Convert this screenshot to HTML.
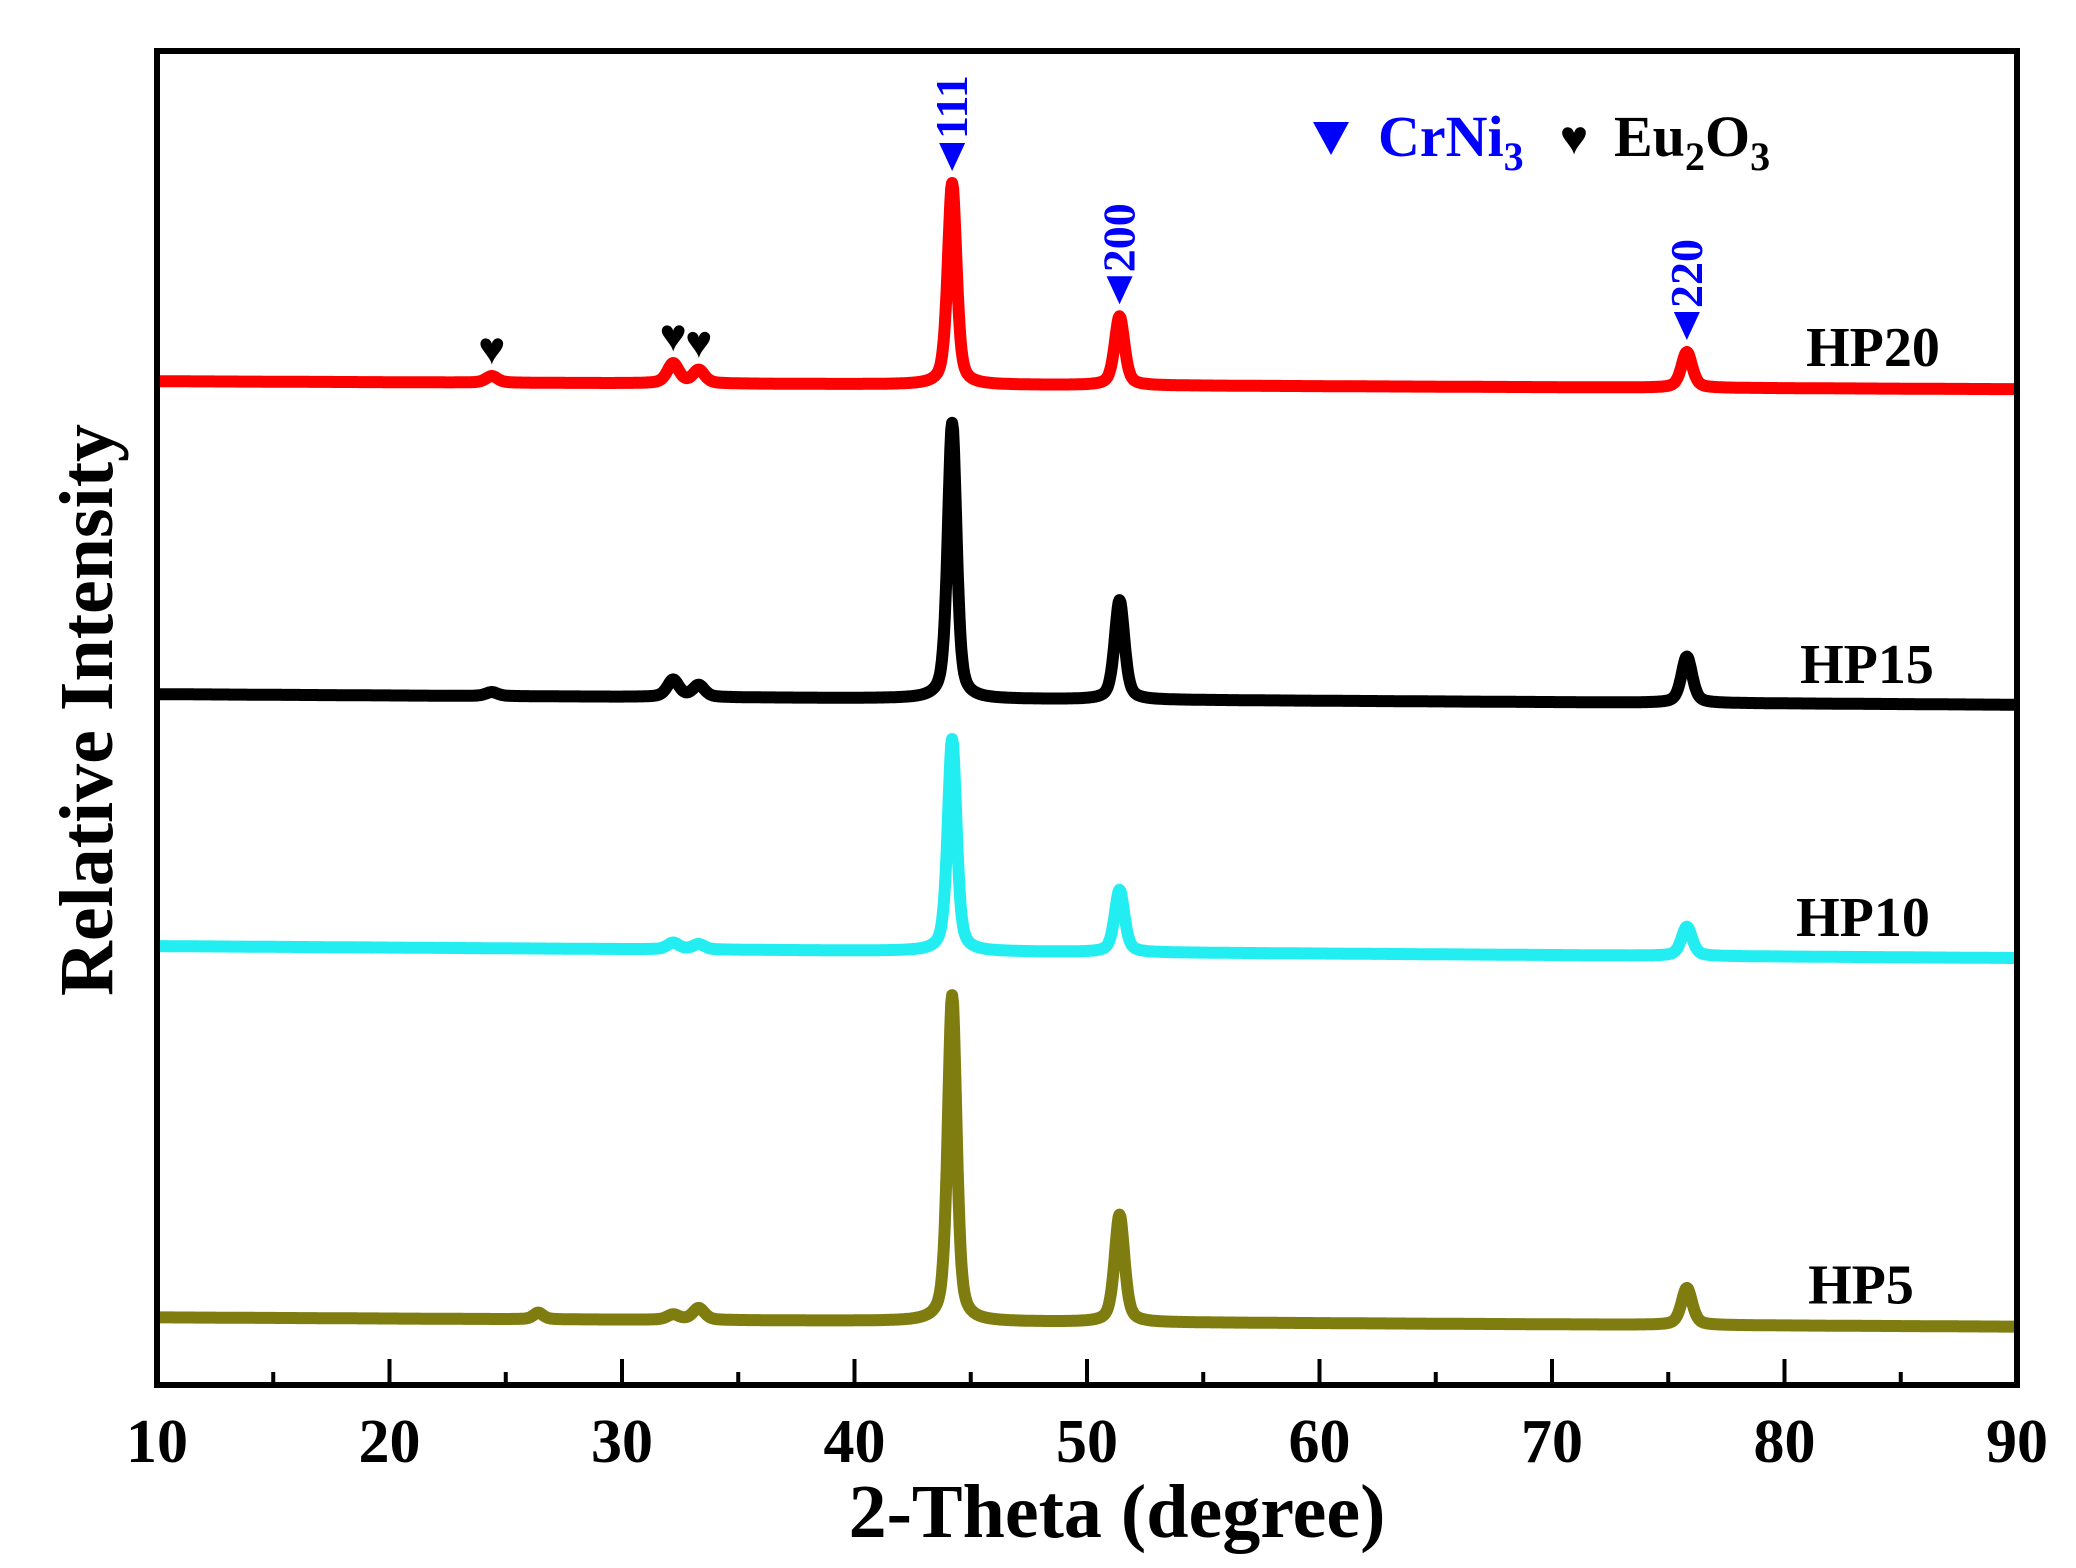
<!DOCTYPE html>
<html><head><meta charset="utf-8"><style>
html,body{margin:0;padding:0;background:#fff;}
svg{display:block;}
text{font-family:"Liberation Serif",serif;font-weight:bold;}
</style></head><body>
<svg id="chart" width="2076" height="1568" viewBox="0 0 2076 1568">
<g id="traces"></g>
<g id="axes"></g>
<g id="annot"></g>
</svg>
<script>
// ---- data ----
const seriesNames = ["HP5","HP10","HP15","HP20"];
const seriesColors = ["#7f7d10","#22eef2","#000000","#ff0000"];
const peakPos = [24.4, 26.4, 32.2, 33.3, 44.2, 51.4, 75.8];
const peakWidth = [0.6, 0.5, 0.6, 0.6, 0.45, 0.5, 0.55];
const hp5Heights  = [0, 5, 4, 9, 246, 81, 28];
const hp10Heights = [0, 0, 5, 4, 160, 47, 22];
const hp15Heights = [3, 0, 13, 9, 208, 75, 35];
const hp20Heights = [5, 0, 15, 10, 152, 52, 27];
const baseStart = [51, 331, 521, 757];
const baseEnd   = [44, 322, 513, 751];
const labelYs   = [75, 352, 543, 782];
const xTicks = [10,20,30,40,50,60,70,80,90];
const xMinor = [15,25,35,45,55,65,75,85];
const hklLabels = ["111","200","220"];
const hklPos = [44.2, 51.4, 75.8];
const eu2o3Marks = [24.4, 32.2, 33.3];
// ---- scales ----
const L=157,R=2017,T=51,B=1385;
const xs = v => L + (v-10)/(80)*(R-L);
const ys = v => B - v*1.326;
const NS="http://www.w3.org/2000/svg";
function mk(tag, attrs, parent){const e=document.createElementNS(NS,tag);for(const k in attrs)e.setAttribute(k,attrs[k]);parent.appendChild(e);return e;}
const heights=[hp5Heights,hp10Heights,hp15Heights,hp20Heights];
const traces=document.getElementById('traces');
function intensity(si,x){
  let v=baseStart[si]+(baseEnd[si]-baseStart[si])*(x-10)/80;
  const h=heights[si];
  for(let i=0;i<peakPos.length;i++){
    const w=peakWidth[i]/2, d=(x-peakPos[i])/w;
    v+=h[i]*(0.5/(1+d*d)+0.5*Math.exp(-0.693*d*d));
  }
  return v;
}
const labelXs=[1861,1863,1867,1873];
for(let si=0;si<4;si++){
  let d="";
  for(let x=10;x<=90.001;x+=0.04){d+=(d?"L":"M")+xs(x).toFixed(1)+","+ys(intensity(si,x)).toFixed(1);}
  const p=mk('path',{d:d,fill:'none',stroke:seriesColors[si],'stroke-width':12,'stroke-linejoin':'round'},traces);
  
  
  const t=mk('text',{x:labelXs[si],y:ys(labelYs[si])+18,'font-size':56,'text-anchor':'middle',fill:'#000'},traces);
  t.textContent=seriesNames[si];
  
  
}
const axes=document.getElementById('axes');
const fr=mk('rect',{x:L,y:T,width:R-L,height:B-T,fill:'none',stroke:'#000','stroke-width':6},axes);


xTicks.forEach(v=>{
  const l=mk('line',{x1:xs(v),x2:xs(v),y1:B,y2:B-26,stroke:'#000','stroke-width':4},axes);
  
  
  const t=mk('text',{x:xs(v),y:1462,'font-size':62,'text-anchor':'middle'},axes);
  t.textContent=v;
  
  
});
xMinor.forEach(v=>{
  const l=mk('line',{x1:xs(v),x2:xs(v),y1:B,y2:B-13,stroke:'#000','stroke-width':4},axes);
  
  
});
const xt=mk('text',{x:1117,y:1537,'font-size':76,'text-anchor':'middle'},axes);
xt.textContent="2-Theta (degree)";


const yt=mk('text',{x:0,y:0,'font-size':76,'text-anchor':'middle',transform:'translate(112,710) rotate(-90)'},axes);
yt.textContent="Relative Intensity";


const an=document.getElementById('annot');
hklPos.forEach((p,i)=>{
  const px=xs(p), py=ys(intensity(3,p))-12;
  const tri=mk('path',{d:`M${px-13},${py-28}L${px+13},${py-28}L${px},${py}Z`,fill:'#0000ff'},an);
  
  
  const t=mk('text',{x:0,y:0,'font-size':46,fill:'#0000ff','text-anchor':'start',transform:`translate(${px+15},${py-32}) rotate(-90)`},an);
  t.textContent=hklLabels[i];
  
  
});
eu2o3Marks.forEach(p=>{
  const px=xs(p), py=ys(intensity(3,p))-12;
  const h=mk('text',{x:px,y:py,'font-size':46,'text-anchor':'middle',fill:'#000'},an);
  h.textContent="♥";
  
  
});
const lg=mk('g',{},an);


const lt=mk('path',{d:'M1313,122L1349,122L1331,155Z',fill:'#0000ff'},lg);


const l1=mk('text',{x:1378,y:156,'font-size':58,fill:'#0000ff'},lg);
l1.innerHTML='CrNi<tspan font-size="40" dy="14">3</tspan>';


const l2=mk('text',{x:1574,y:154,'font-size':48,'text-anchor':'middle'},lg);
l2.textContent="♥";


const l3=mk('text',{x:1614,y:156,'font-size':58,fill:'#000'},lg);
l3.innerHTML='Eu<tspan font-size="40" dy="14">2</tspan><tspan dy="-14">O</tspan><tspan font-size="40" dy="14">3</tspan>';


</script>
</body></html>
